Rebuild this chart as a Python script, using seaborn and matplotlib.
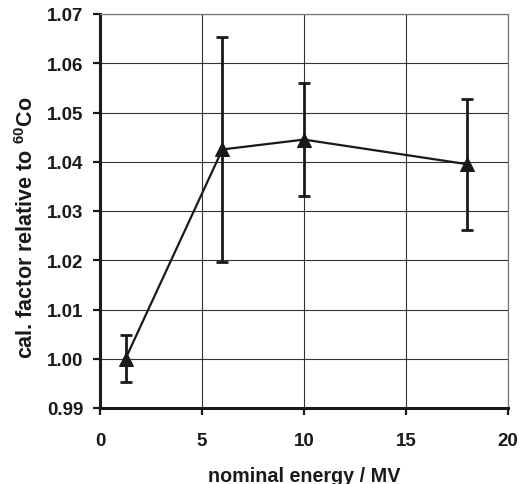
import matplotlib
matplotlib.use("Agg")
import matplotlib.pyplot as plt
import seaborn as sns
import pandas as pd

# Calibration factor vs nominal beam energy (Co-60 at 1.25 MV)
energy_mv = [1.25, 6, 10, 18]
cal_factor = [1.0000, 1.0425, 1.0445, 1.0395]
uncertainty = [0.0048, 0.0229, 0.0115, 0.0133]

x_ticks = [0, 5, 10, 15, 20]
y_ticks = [0.99, 1.00, 1.01, 1.02, 1.03, 1.04, 1.05, 1.06, 1.07]

sns.set_theme(style="white")
plt.rcParams["font.family"] = ["Liberation Sans", "DejaVu Sans"]
plt.rcParams["font.weight"] = "bold"
plt.rcParams["mathtext.fontset"] = "custom"
plt.rcParams["mathtext.rm"] = "Liberation Sans:bold"
plt.rcParams["mathtext.default"] = "rm"

df = pd.DataFrame({"energy": energy_mv, "factor": cal_factor, "err": uncertainty})

fig = plt.figure(figsize=(5.19, 4.85), dpi=100)
ax = fig.add_axes([100 / 519, 1 - 409 / 485, 408 / 519, 394 / 485])

ink = "#1a1a1a"
ax.errorbar(df["energy"], df["factor"], yerr=df["err"], fmt="none",
            ecolor=ink, elinewidth=2.0, capsize=4, capthick=2.0, zorder=3)
sns.lineplot(data=df, x="energy", y="factor", ax=ax, color=ink, linewidth=1.6,
             marker="^", markersize=10, markeredgecolor=ink, markerfacecolor=ink,
             zorder=4)

ax.set_xlim(0, 20)
ax.set_ylim(0.99, 1.07)
ax.set_xticks(x_ticks)
ax.set_yticks(y_ticks)
ax.set_xticklabels([f"{v:d}" for v in x_ticks])
ax.set_yticklabels([f"{v:.2f}" for v in y_ticks])

ax.grid(True, color="#333333", linewidth=0.8)
ax.set_axisbelow(True)

for side in ("left", "bottom"):
    ax.spines[side].set_color(ink)
    ax.spines[side].set_linewidth(2.2)
for side in ("top", "right"):
    ax.spines[side].set_color("#777777")
    ax.spines[side].set_linewidth(0.9)

ax.tick_params(axis="both", direction="out", length=5, width=1.6, color=ink,
               labelsize=13.5, labelcolor=ink)
ax.tick_params(axis="x", pad=12)
ax.tick_params(axis="y", pad=7)
ax.tick_params(left=True, bottom=True)

ax.set_xlabel("nominal energy / MV", fontsize=14.2, fontweight="bold",
              color=ink, labelpad=12.5)
ax.set_ylabel(r"cal. factor relative to $^{60}$Co", fontsize=15.5,
              fontweight="bold", color=ink)
ax.yaxis.set_label_coords(-0.152, 0.46)

fig.savefig("out.png", dpi=100)
